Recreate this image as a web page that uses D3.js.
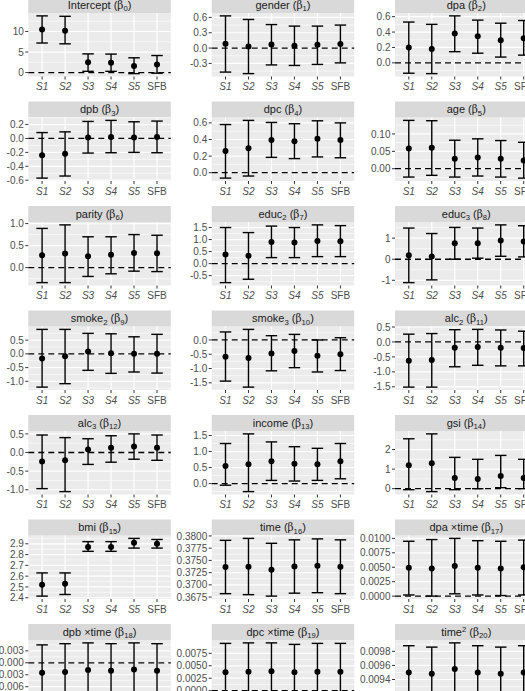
<!DOCTYPE html>
<html><head><meta charset="utf-8">
<script src="https://cdn.jsdelivr.net/npm/d3@7"></script>
<style>
body{margin:0;background:#fff;}
svg{display:block;}
text{font-family:"Liberation Sans",Arial,Helvetica,sans-serif;}
</style>
</head><body>
<svg id="chart" width="525" height="691"></svg>
<script>
// ---------- data ----------
const categories = ["S1", "S2", "S3", "S4", "S5", "SFB"];

// facet titles: segments [text, style] (style: "" | "g" | "sub" | "sup")
const facetLabels = [
  [["Intercept (",""],["β","g"],["0","sub"],[")",""]],
  [["gender (",""],["β","g"],["1","sub"],[")",""]],
  [["dpa (",""],["β","g"],["2","sub"],[")",""]],
  [["dpb (",""],["β","g"],["3","sub"],[")",""]],
  [["dpc (",""],["β","g"],["4","sub"],[")",""]],
  [["age (",""],["β","g"],["5","sub"],[")",""]],
  [["parity (",""],["β","g"],["6","sub"],[")",""]],
  [["educ",""],["2","sub"],[" (",""],["β","g"],["7","sub"],[")",""]],
  [["educ",""],["3","sub"],[" (",""],["β","g"],["8","sub"],[")",""]],
  [["smoke",""],["2","sub"],[" (",""],["β","g"],["9","sub"],[")",""]],
  [["smoke",""],["3","sub"],[" (",""],["β","g"],["10","sub"],[")",""]],
  [["alc",""],["2","sub"],[" (",""],["β","g"],["11","sub"],[")",""]],
  [["alc",""],["3","sub"],[" (",""],["β","g"],["12","sub"],[")",""]],
  [["income (",""],["β","g"],["13","sub"],[")",""]],
  [["gsi (",""],["β","g"],["14","sub"],[")",""]],
  [["bmi (",""],["β","g"],["15","sub"],[")",""]],
  [["time (",""],["β","g"],["16","sub"],[")",""]],
  [["dpa \u00D7time (",""],["β","g"],["17","sub"],[")",""]],
  [["dpb \u00D7time (",""],["β","g"],["18","sub"],[")",""]],
  [["dpc \u00D7time (",""],["β","g"],["19","sub"],[")",""]],
  [["time",""],["2","sup"],[" (",""],["β","g"],["20","sub"],[")",""]]
];

// point estimates per facet (S1..S5, SFB)
const estimates = [
  [10.5, 10.2, 2.5, 2.4, 1.6, 1.95],
  [0.085, 0.03, 0.07, 0.045, 0.065, 0.08],
  [0.20, 0.18, 0.38, 0.345, 0.295, 0.32],
  [-0.24, -0.22, 0.015, 0.02, 0.015, 0.02],
  [0.26, 0.295, 0.395, 0.38, 0.41, 0.395],
  [0.058, 0.060, 0.029, 0.032, 0.029, 0.024],
  [0.28, 0.32, 0.26, 0.29, 0.33, 0.325],
  [0.375, 0.33, 0.90, 0.875, 0.945, 0.93],
  [0.19, 0.13, 0.76, 0.76, 0.89, 0.84],
  [-0.17, -0.085, 0.085, 0.025, 0.0, 0.0],
  [-0.59, -0.635, -0.47, -0.39, -0.55, -0.50],
  [-0.625, -0.60, -0.19, -0.17, -0.19, -0.205],
  [-0.24, -0.21, 0.08, 0.13, 0.16, 0.13],
  [0.55, 0.60, 0.70, 0.62, 0.60, 0.70],
  [1.2, 1.3, 0.55, 0.5, 0.65, 0.55],
  [2.52, 2.53, 2.87, 2.87, 2.91, 2.90],
  [0.37365, 0.37370, 0.37310, 0.37375, 0.37390, 0.37370],
  [0.0049, 0.0048, 0.0052, 0.0049, 0.0048, 0.0050],
  [-0.0025, -0.0023, -0.0018, -0.0020, -0.0017, -0.0020],
  [0.0037, 0.0038, 0.0039, 0.0037, 0.0038, 0.0038],
  [0.00950, 0.00948, 0.00955, 0.00950, 0.00948, 0.00950]
];
// lower interval bounds
const lowers = [
  [7.2, 7.0, 0.3, 0.3, -0.25, -0.15],
  [-0.47, -0.50, -0.33, -0.34, -0.32, -0.29],
  [-0.135, -0.14, 0.145, 0.125, 0.075, 0.10],
  [-0.57, -0.54, -0.21, -0.205, -0.20, -0.205],
  [-0.065, -0.04, 0.185, 0.17, 0.19, 0.18],
  [-0.024, -0.019, -0.024, -0.021, -0.024, -0.027],
  [-0.34, -0.34, -0.20, -0.14, -0.08, -0.09],
  [-0.79, -0.65, 0.25, 0.25, 0.29, 0.29],
  [-1.11, -0.98, 0.0, 0.05, 0.14, 0.11],
  [-1.21, -1.085, -0.60, -0.71, -0.66, -0.70],
  [-1.44, -1.65, -1.08, -0.97, -1.12, -1.07],
  [-1.51, -1.51, -0.83, -0.78, -0.80, -0.80],
  [-0.97, -1.05, -0.32, -0.26, -0.18, -0.21],
  [-0.05, -0.25, 0.10, 0.08, 0.10, 0.15],
  [-0.05, -0.15, -0.05, 0.0, 0.05, 0.0],
  [2.415, 2.43, 2.83, 2.83, 2.86, 2.86],
  [0.36820, 0.36800, 0.36770, 0.36830, 0.36840, 0.36820],
  [0.0002, 0.0000, 0.0004, 0.0002, 0.0001, 0.0002],
  [-0.0095, -0.0094, -0.0086, -0.0088, -0.0084, -0.0088],
  [-0.0020, -0.0019, -0.0017, -0.0020, -0.0018, -0.0019],
  [0.00912, 0.00910, 0.00917, 0.00912, 0.00910, 0.00912]
];
// upper interval bounds
const uppers = [
  [13.8, 13.7, 4.55, 4.5, 3.6, 4.15],
  [0.63, 0.56, 0.46, 0.43, 0.43, 0.45],
  [0.53, 0.50, 0.61, 0.555, 0.515, 0.55],
  [0.085, 0.095, 0.245, 0.26, 0.24, 0.25],
  [0.58, 0.63, 0.605, 0.59, 0.625, 0.60],
  [0.139, 0.138, 0.082, 0.086, 0.081, 0.076],
  [0.89, 0.97, 0.70, 0.70, 0.75, 0.735],
  [1.50, 1.29, 1.56, 1.50, 1.61, 1.58],
  [1.48, 1.22, 1.51, 1.48, 1.63, 1.59],
  [0.89, 0.89, 0.745, 0.73, 0.62, 0.71],
  [0.28, 0.37, 0.15, 0.195, 0.0, 0.08],
  [0.26, 0.28, 0.41, 0.42, 0.40, 0.36],
  [0.47, 0.40, 0.37, 0.45, 0.50, 0.47],
  [1.25, 1.55, 1.30, 1.15, 1.10, 1.25],
  [2.55, 2.8, 1.6, 1.5, 1.7, 1.5],
  [2.63, 2.63, 2.92, 2.92, 2.95, 2.94],
  [0.37910, 0.37950, 0.37850, 0.37920, 0.37940, 0.37920],
  [0.0095, 0.0098, 0.0100, 0.0096, 0.0095, 0.0097],
  [0.0045, 0.0048, 0.0050, 0.0048, 0.0050, 0.0048],
  [0.0095, 0.0096, 0.0096, 0.0093, 0.0095, 0.0095],
  [0.00988, 0.00986, 0.00992, 0.00988, 0.00986, 0.00988]
];
// y-axis tick labels per facet
const yTickLabels = [
  ["0","5","10"],
  ["-0.3","0.0","0.3","0.6"],
  ["0.0","0.2","0.4","0.6"],
  ["-0.6","-0.4","-0.2","0.0","0.2"],
  ["0.0","0.2","0.4","0.6"],
  ["0.00","0.05","0.10"],
  ["0.0","0.5","1.0"],
  ["-0.5","0.0","0.5","1.0","1.5"],
  ["-1","0","1"],
  ["-1.0","-0.5","0.0","0.5"],
  ["-1.5","-1.0","-0.5","0.0"],
  ["-1.5","-1.0","-0.5","0.0","0.5"],
  ["-1.0","-0.5","0.0","0.5"],
  ["0.0","0.5","1.0","1.5"],
  ["0","1","2"],
  ["2.4","2.5","2.6","2.7","2.8","2.9"],
  ["0.3675","0.3700","0.3725","0.3750","0.3775","0.3800"],
  ["0.0000","0.0025","0.0050","0.0075","0.0100"],
  ["-0.006","-0.003","0.000","0.003"],
  ["0.0000","0.0025","0.0050","0.0075"],
  ["0.0094","0.0096","0.0098"]
];

// ---------- layout ----------
const svg = d3.select("#chart");
const colX = [28.3, 211.7, 395];
const panelW = 142.5, panelH = 63.5, stripH = 16;
const rowTop0 = 13, rowPitch = 104.5;
const axisCol = "#4D4D4D", tickCol = "#333333";

const x = d3.scalePoint().domain(categories).range([0, panelW]).padding(0.6);
const capHalf = x.step() * 0.25;

const shift = s => s === "sub" ? 2.5 : (s === "sup" ? -4 : 0);

facetLabels.forEach((lab, i) => {
  const col = i % 3, row = Math.floor(i / 3);
  const px = colX[col], py = rowTop0 + row * rowPitch;
  const g = svg.append("g").attr("transform", `translate(${px},${py})`);

  const lo = d3.min(lowers[i]), hi = d3.max(uppers[i]);
  const pad = (hi - lo) * 0.05;
  const y = d3.scaleLinear().domain([lo - pad, hi + pad]).range([panelH, 0]);
  const [d0, d1] = y.domain();
  const allTicks = yTickLabels[i].map(Number);
  const tickIdx = allTicks.map((v, k) => k).filter(k => allTicks[k] >= d0 - 1e-12 && allTicks[k] <= d1 + 1e-12);
  const ticks = tickIdx.map(k => allTicks[k]);

  // panel background
  g.append("rect").attr("width", panelW).attr("height", panelH).attr("fill", "#EBEBEB");

  // strip
  g.append("rect").attr("x", 0).attr("y", -stripH).attr("width", panelW).attr("height", stripH).attr("fill", "#D9D9D9");
  const st = g.append("text").attr("x", panelW / 2).attr("y", -stripH / 2 + 3.8)
    .attr("text-anchor", "middle").attr("font-size", 11).attr("fill", "#1A1A1A");
  lab.forEach(([t, s], k) => {
    const ts = st.append("tspan").text(t);
    const prev = k > 0 ? lab[k - 1][1] : "";
    const dy = shift(s) - shift(prev);
    if (dy !== 0) ts.attr("dy", dy);
    if (s === "sub" || s === "sup") ts.attr("font-size", 7.7);
    if (s === "g") ts.attr("font-family", "'DejaVu Serif',serif").attr("font-size", 10.5);
  });

  // minor grid
  const step = allTicks[1] - allTicks[0];
  const minors = [];
  for (let k = 0; k < allTicks.length - 1; k++) minors.push((allTicks[k] + allTicks[k + 1]) / 2);
  minors.push(allTicks[0] - step / 2, allTicks[allTicks.length - 1] + step / 2);
  g.selectAll(".minor").data(minors.filter(v => v >= d0 && v <= d1)).join("line")
    .attr("x1", 0).attr("x2", panelW).attr("y1", d => y(d)).attr("y2", d => y(d))
    .attr("stroke", "#fff").attr("stroke-width", 0.6);
  // major grid
  g.selectAll(".major").data(ticks).join("line")
    .attr("x1", 0).attr("x2", panelW).attr("y1", d => y(d)).attr("y2", d => y(d))
    .attr("stroke", "#fff").attr("stroke-width", 1.2);
  // vertical grid
  g.selectAll(".vgrid").data(categories).join("line")
    .attr("x1", d => x(d)).attr("x2", d => x(d)).attr("y1", 0).attr("y2", panelH)
    .attr("stroke", "#fff").attr("stroke-width", 1.2);

  // dashed zero line
  if (0 >= d0 && 0 <= d1) {
    g.append("line").attr("x1", 0).attr("x2", panelW).attr("y1", y(0)).attr("y2", y(0))
      .attr("stroke", "#000").attr("stroke-width", 1.3).attr("stroke-dasharray", "6,4");
  }

  // error bars
  const eb = g.append("g").attr("stroke", "#000").attr("stroke-width", 1.4).attr("fill", "none");
  categories.forEach((c, j) => {
    const cx = x(c);
    eb.append("line").attr("x1", cx).attr("x2", cx).attr("y1", y(lowers[i][j])).attr("y2", y(uppers[i][j]));
    eb.append("line").attr("x1", cx - capHalf).attr("x2", cx + capHalf).attr("y1", y(lowers[i][j])).attr("y2", y(lowers[i][j]));
    eb.append("line").attr("x1", cx - capHalf).attr("x2", cx + capHalf).attr("y1", y(uppers[i][j])).attr("y2", y(uppers[i][j]));
  });
  g.selectAll(".pt").data(categories).join("circle")
    .attr("cx", d => x(d)).attr("cy", (d, j) => y(estimates[i][j])).attr("r", 3).attr("fill", "#000");

  // y axis
  const ya = g.append("g");
  tickIdx.forEach(k => {
    const v = allTicks[k];
    ya.append("line").attr("x1", -3).attr("x2", 0).attr("y1", y(v)).attr("y2", y(v))
      .attr("stroke", tickCol).attr("stroke-width", 1);
    ya.append("text").attr("x", -4.5).attr("y", y(v) + 3.6).attr("text-anchor", "end")
      .attr("font-size", 10).attr("fill", axisCol).text(yTickLabels[i][k]);
  });
  // x axis
  const xa = g.append("g").attr("transform", `translate(0,${panelH})`);
  categories.forEach(c => {
    xa.append("line").attr("x1", x(c)).attr("x2", x(c)).attr("y1", 0).attr("y2", 3)
      .attr("stroke", tickCol).attr("stroke-width", 1);
    xa.append("text").attr("x", x(c)).attr("y", 13.5).attr("text-anchor", "middle")
      .attr("font-size", 10).attr("fill", axisCol)
      .attr("font-style", c === "SFB" ? "normal" : "italic").text(c);
  });
});
</script>
</body></html>
